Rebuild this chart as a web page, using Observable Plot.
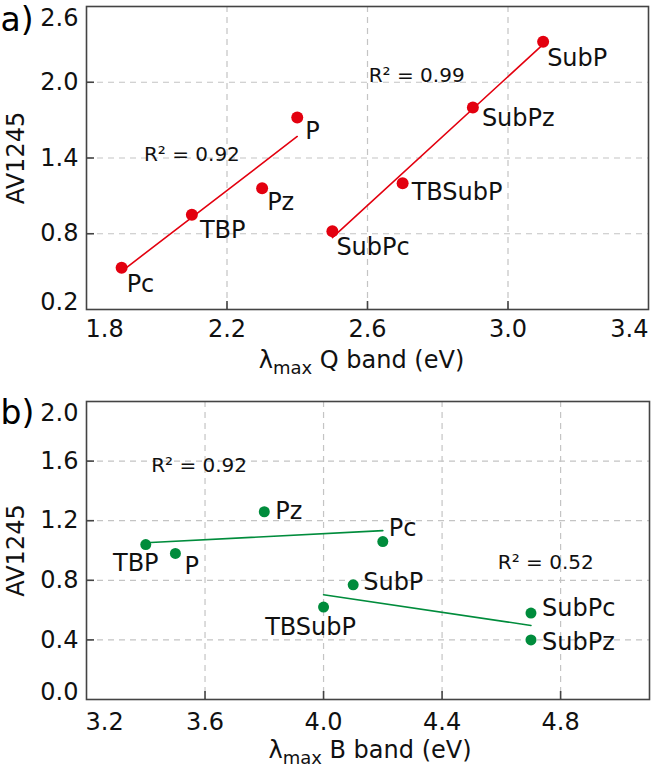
<!DOCTYPE html>
<html><head><meta charset="utf-8">
<script src="https://cdn.jsdelivr.net/npm/d3@7"></script>
<script src="https://cdn.jsdelivr.net/npm/@observablehq/plot@0.6"></script>
<style>
body{margin:0;background:#fff;}
#wrap{width:652px;}
#wrap svg{display:block;}
</style></head><body><div id="wrap"></div>
<script>
// ---------- Panel a data (Q band) ----------
const namesA = ["Pc","TBP","Pz","P","SubPc","TBSubP","SubPz","SubP"];
const qBandA = [1.90,2.10,2.30,2.40,2.50,2.70,2.90,3.10];
const av1245A = [0.53,0.95,1.16,1.72,0.82,1.20,1.80,2.32];
const familyA = ["Por","Por","Por","Por","Sub","Sub","Sub","Sub"];
const r2TextA = ["R² = 0.92","R² = 0.99"];
const r2XA = [2.10,2.74];
const r2YA = [1.43,2.05];
const xTicksA = [1.8,2.2,2.6,3.0,3.4];
const yTicksA = [0.2,0.8,1.4,2.0,2.6];

// ---------- Panel b data (B band) ----------
const namesB = ["TBP","P","Pz","Pc","TBSubP","SubP","SubPc","SubPz"];
const bBandB = [3.40,3.50,3.80,4.20,4.00,4.10,4.70,4.70];
const av1245B = [1.04,0.98,1.26,1.06,0.62,0.77,0.58,0.40];
const familyB = ["Por","Por","Por","Por","Sub","Sub","Sub","Sub"];
const r2TextB = ["R² = 0.92","R² = 0.52"];
const r2XB = [3.58,4.75];
const r2YB = [1.57,0.92];
const xTicksB = [3.2,3.6,4.0,4.4,4.8];
const yTicksB = [0.0,0.4,0.8,1.2,1.6,2.0];

// label placement (layout, not data)
const labelPosA = {
  Pc:{dx:5,dy:16,a:"start"}, TBP:{dx:8,dy:15,a:"start"}, Pz:{dx:5,dy:14,a:"start"}, P:{dx:8,dy:14,a:"start"},
  SubPc:{dx:4,dy:16,a:"start"}, TBSubP:{dx:9,dy:9,a:"start"}, SubPz:{dx:9,dy:11,a:"start"}, SubP:{dx:4,dy:16,a:"start"}
};
const labelPosB = {
  TBP:{dx:-10,dy:19,a:"middle"}, P:{dx:9,dy:13,a:"start"}, Pz:{dx:11,dy:0,a:"start"}, Pc:{dx:6,dy:-13,a:"start"},
  TBSubP:{dx:-13,dy:20,a:"middle"}, SubP:{dx:10,dy:-2,a:"start"}, SubPc:{dx:11,dy:-5,a:"start"}, SubPz:{dx:11,dy:2,a:"start"}
};

const FONT = "DejaVu Sans";
const fmt = d3.format(".1f");

function panel(cfg){
  const data = cfg.names.map((n,i)=>({name:n, x:cfg.xs[i], y:cfg.ys[i], g:cfg.groups[i]}));
  const r2 = cfg.r2Text.map((t,i)=>({t, x:cfg.r2X[i], y:cfg.r2Y[i]}));
  const [x0,x1] = cfg.xDomain, [y0,y1] = cfg.yDomain;
  const eps = 1e-9;
  const inX = cfg.xTicks.filter(t=>t>x0+eps && t<x1-eps);
  const inY = cfg.yTicks.filter(t=>t>y0+eps && t<y1-eps);
  const firstX = cfg.xTicks.filter(t=>Math.abs(t-x0)<eps);
  const lastX = cfg.xTicks.filter(t=>Math.abs(t-x1)<eps);
  const firstY = cfg.yTicks.filter(t=>Math.abs(t-y0)<eps);
  const lastY = cfg.yTicks.filter(t=>Math.abs(t-y1)<eps);
  const tickStyle = {fontSize:24, fill:"#111"};
  const marks = [
    Plot.ruleX(inX, {x:d=>d, stroke:"#c4c4c4", strokeWidth:1.2, strokeDasharray:"6,5"}),
    Plot.ruleY(inY, {y:d=>d, stroke:"#c4c4c4", strokeWidth:1.2, strokeDasharray:"6,5"}),
    Plot.frame({stroke:"#444", strokeWidth:1.6}),
    Plot.axisX(inX, {tickSize:8, dy:-8, fill:"none", label:null, stroke:"#444", strokeWidth:1.6}),
    Plot.axisY(inY, {tickSize:8, dx:8, fill:"none", label:null, stroke:"#444", strokeWidth:1.6}),
    // x tick labels
    Plot.text(inX, {x:d=>d, text:d=>fmt(d), frameAnchor:"bottom", dy:cfg.xLabDy, lineAnchor:"top", textAnchor:"middle", ...tickStyle}),
    Plot.text(firstX, {x:d=>d, text:d=>fmt(d), frameAnchor:"bottom", dy:cfg.xLabDy, lineAnchor:"top", textAnchor:"start", dx:-1, ...tickStyle}),
    Plot.text(lastX, {x:d=>d, text:d=>fmt(d), frameAnchor:"bottom", dy:cfg.xLabDy, lineAnchor:"top", textAnchor:"end", ...tickStyle}),
    // y tick labels
    Plot.text(inY, {y:d=>d, text:d=>fmt(d), frameAnchor:"left", dx:-8, lineAnchor:"middle", textAnchor:"end", ...tickStyle}),
    Plot.text(firstY, {y:d=>d, text:d=>fmt(d), frameAnchor:"left", dx:-8, lineAnchor:"bottom", textAnchor:"end", ...tickStyle}),
    Plot.text(lastY, {y:d=>d, text:d=>fmt(d), frameAnchor:"left", dx:-8, dy:2, lineAnchor:"top", textAnchor:"end", ...tickStyle}),
    // axis titles
    Plot.text([cfg.xTitle], {frameAnchor:"bottom", dy:58, dx:cfg.xTitleDx, lineAnchor:"bottom", textAnchor:"middle", fontSize:24, fill:"#111"}),
    Plot.text(["AV1245"], {frameAnchor:"left", dx:-70, rotate:-90, textAnchor:"middle", lineAnchor:"middle", fontSize:24, fill:"#111"}),
    Plot.text([cfg.tag], {frameAnchor:"top-left", dx:-86, dy:cfg.tagDy, textAnchor:"start", lineAnchor:"bottom", fontSize:33, fill:"#000"}),
    // regression lines
    Plot.linearRegressionY(data, {x:"x", y:"y", z:"g", stroke:cfg.color, strokeWidth:1.6, ci:0}),
    Plot.dot(data, {x:"x", y:"y", r:cfg.r, fill:cfg.color}),
    Plot.text(r2, {x:"x", y:"y", text:"t", fontSize:20, fill:"#111", lineAnchor:"middle", textAnchor:"middle"})
  ];
  for (const d of data) {
    const p = cfg.labelPos[d.name];
    marks.push(Plot.text([d], {x:"x", y:"y", text:"name", dx:p.dx, dy:p.dy, textAnchor:p.a, lineAnchor:"middle", fontSize:24, fill:"#111"}));
  }
  const svg = Plot.plot({
    width:652, height:cfg.height,
    marginLeft:86, marginRight:cfg.mr, marginTop:cfg.mt, marginBottom:cfg.mb,
    x:{domain:cfg.xDomain}, y:{domain:cfg.yDomain},
    style:{fontFamily:FONT, background:"#fff", color:"#111"},
    marks
  });
  // subscript in x title
  svg.querySelectorAll("text").forEach(t => {
    if (t.textContent === cfg.xTitle) {
      const rest = cfg.xTitle.slice(4);
      t.textContent = "";
      const ns = "http://www.w3.org/2000/svg";
      const a = document.createElementNS(ns,"tspan"); a.textContent = "λ";
      const b = document.createElementNS(ns,"tspan"); b.textContent = "max"; b.setAttribute("font-size","18"); b.setAttribute("dy","6");
      const c = document.createElementNS(ns,"tspan"); c.textContent = rest; c.setAttribute("dy","-6");
      t.append(a,b,c);
    }
  });
  return svg;
}

const wrap = document.getElementById("wrap");
wrap.append(panel({
  names:namesA, xs:qBandA, ys:av1245A, groups:familyA,
  r2Text:r2TextA, r2X:r2XA, r2Y:r2YA,
  xTicks:xTicksA, yTicks:yTicksA, xDomain:[1.8,3.4], yDomain:[0.2,2.6],
  xTitle:"λmax Q band (eV)", xTitleDx:-6, tag:"a)", tagDy:24,
  color:"#e3000f", r:6, labelPos:labelPosA,
  height:380, mt:6, mb:71, mr:4, xLabDy:10
}));
wrap.append(panel({
  names:namesB, xs:bBandB, ys:av1245B, groups:familyB,
  r2Text:r2TextB, r2X:r2XB, r2Y:r2YB,
  xTicks:xTicksB, yTicks:yTicksB, xDomain:[3.2,5.1], yDomain:[0,2.0],
  xTitle:"λmax B band (eV)", xTitleDx:2, tag:"b)", tagDy:22,
  color:"#008c3c", r:5.5, labelPos:labelPosB,
  height:388, mt:21, mb:69, mr:3, xLabDy:13
}));
</script></body></html>
